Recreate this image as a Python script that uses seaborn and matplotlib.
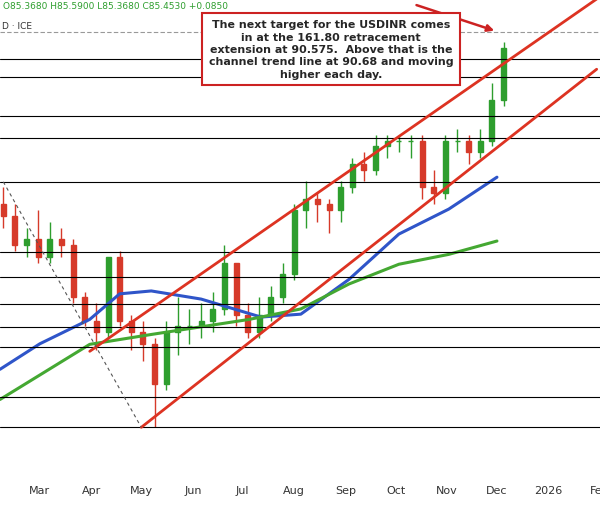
import matplotlib
matplotlib.use("Agg")
import matplotlib.pyplot as plt
import matplotlib.dates as mdates
import seaborn as sns
import pandas as pd
import numpy as np

sns.set_style("white")
plt.rcParams['font.family'] = ['DejaVu Sans']

week_start = pd.Timestamp("2025-02-07")
opens  = [87.6,87.4,86.9,87.0,86.7,87.0,86.9,86.0,85.6,85.4,86.7,85.6,85.4,85.2,84.5,85.4,85.5,85.5,85.6,85.8,86.6,85.7,85.4,85.7,86.0,86.4,87.5,87.7,87.6,87.5,87.9,88.3,88.2,88.6,88.7,88.7,88.7,87.9,87.8,88.7,88.7,88.5,88.7,89.4]
closes = [87.4,86.9,87.0,86.7,87.0,86.9,86.0,85.6,85.4,86.7,85.6,85.4,85.2,84.5,85.4,85.5,85.5,85.6,85.8,86.6,85.7,85.4,85.7,86.0,86.4,87.5,87.7,87.6,87.5,87.9,88.3,88.2,88.6,88.7,88.7,88.7,87.9,87.8,88.7,88.7,88.5,88.7,89.4,90.3]
highs  = [87.9,87.6,87.2,87.5,87.3,87.2,87.0,86.1,85.9,86.7,86.8,85.7,85.6,85.3,85.6,86.0,85.8,85.9,86.1,86.9,86.6,85.9,86.0,86.2,86.6,87.6,88.0,87.8,87.7,88.0,88.4,88.5,88.8,88.8,88.8,88.8,88.8,88.2,88.8,88.9,88.8,88.9,89.7,90.4]
lows   = [87.2,86.8,86.7,86.6,86.6,86.7,85.9,85.5,85.1,85.3,85.5,85.1,84.9,83.76,84.4,85.0,85.2,85.3,85.4,85.7,85.5,85.3,85.3,85.6,85.9,86.3,87.2,87.3,87.1,87.3,87.8,88.0,88.1,88.4,88.5,88.4,87.7,87.6,87.7,88.5,88.3,88.4,88.6,89.3]

ma100_dates = ["2025-02-05","2025-03-01","2025-03-31","2025-04-18","2025-05-07","2025-06-06","2025-07-12","2025-08-05","2025-09-03","2025-10-03","2025-11-02","2025-12-01"]
ma100_vals  = [84.76,85.2,85.62,86.06,86.11,85.97,85.66,85.71,86.31,87.09,87.52,88.07]
ma200_dates = ["2025-02-05","2025-03-31","2025-05-07","2025-07-05","2025-08-05","2025-09-03","2025-10-03","2025-11-02","2025-12-01"]
ma200_vals  = [84.24,85.19,85.36,85.62,85.80,86.23,86.57,86.74,86.97]

levels = [90.11,89.80,89.13,88.75,87.99,86.78,86.35,85.88,85.49,85.14,84.28,83.76]
month_ticks = ["2025-03-01","2025-04-01","2025-05-01","2025-06-01","2025-07-01","2025-08-01","2025-09-01","2025-10-01","2025-11-01","2025-12-01","2026-01-01","2026-02-01"]
month_labels = ["Mar","Apr","May","Jun","Jul","Aug","Sep","Oct","Nov","Dec","2026","Feb"]

fig = plt.figure(figsize=(6.0, 5.06), dpi=100)
ax = fig.add_axes([0, 26/506, 1, 480/506])

dates = [week_start + pd.Timedelta(days=7*i) for i in range(len(closes))]
x = mdates.date2num(dates)
up = np.array(closes) >= np.array(opens)
cols = np.where(up, "#2e9e2e", "#d63a2a")
ax.vlines(x, lows, highs, colors=cols, lw=1)
ax.bar(x, np.array(closes)-np.array(opens), bottom=opens, width=3.0, color=cols, edgecolor=cols)

sns.lineplot(x=mdates.date2num(pd.to_datetime(ma100_dates)), y=ma100_vals, ax=ax, color="#2f55c9", lw=2.2)
sns.lineplot(x=mdates.date2num(pd.to_datetime(ma200_dates)), y=ma200_vals, ax=ax, color="#44a832", lw=2.2)

for lv in levels:
    ax.axhline(lv, color="black", lw=0.8)
ax.axhline(90.575, color="#999999", lw=0.8, ls=(0, (4, 2)))

d = lambda s: mdates.date2num(pd.Timestamp(s))
ax.plot([d("2025-03-31"), d("2026-01-30")], [85.07, 91.14], color="#dd3322", lw=2)
ax.plot([d("2025-05-01"), d("2026-01-30")], [83.76, 89.93], color="#dd3322", lw=2)
ax.plot([d("2025-02-07"), d("2025-05-01")], [87.99, 83.76], color="#555555", lw=0.8, ls=(0, (3, 3)))

ax.set_xlim(d("2025-02-05"), d("2026-01-30"))
ax.set_ylim(82.87, 91.14)
ax.set_xticks([d(m) for m in month_ticks])
ax.set_xticklabels(month_labels, fontsize=8, color="#333333")
ax.set_yticks([])
ax.tick_params(axis="x", length=0, pad=4)
for s in ax.spines.values():
    s.set_visible(False)

ax.text(0.005, 0.995, "O85.3680 H85.5900 L85.3680 C85.4530 +0.0850", transform=ax.transAxes,
        fontsize=6.5, color="#2e9e2e", va="top")
ax.text(0.003, 0.955, "D · ICE", transform=ax.transAxes, fontsize=6.5, color="#333333", va="top")

fig.text(331/600, 1-50/506,
         "The next target for the USDINR comes\nin at the 161.80 retracement\nextension at 90.575.  Above that is the\nchannel trend line at 90.68 and moving\nhigher each day.",
         ha="center", va="center", fontsize=7.9, fontweight="bold", linespacing=1.3,
         bbox=dict(boxstyle="square,pad=0.6", fc="white", ec="#cc2222", lw=1.5))
ax.annotate("", xy=(d("2025-12-01"), 90.58), xytext=(d("2025-10-12"), 91.05),
            arrowprops=dict(arrowstyle="-|>", color="#cc2222", lw=1.8))

fig.savefig("out.png", dpi=100)
